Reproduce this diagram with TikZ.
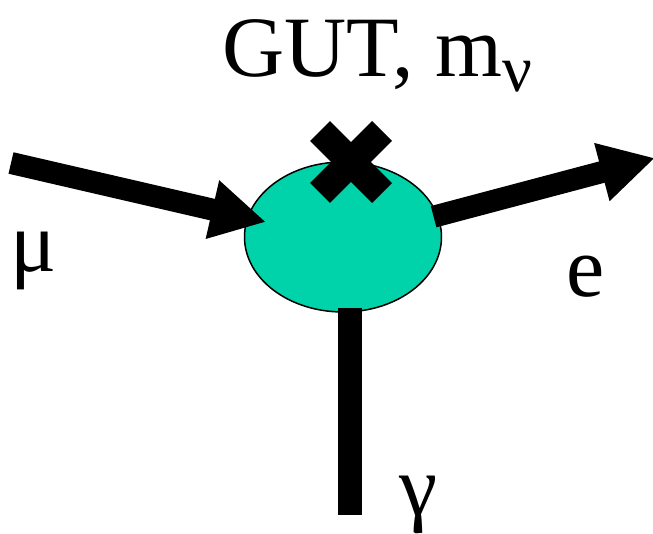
\documentclass[tikz,border=0pt]{standalone}
\usepackage{fontspec}
\setmainfont{Liberation Serif}
\usetikzlibrary{arrows.meta, shapes.geometric, positioning}
\definecolor{blobteal}{RGB}{0,210,170}

\begin{document}
\begin{tikzpicture}[x=1pt, y=-1pt,
  fermion/.style={line width=22pt, line cap=butt, -{Triangle[length={55pt 0 0}, width={56pt 0 0}]}},
  photon/.style={line width=24pt, line cap=butt},
  xbar/.style={line width=28pt, line cap=butt},
  particle/.style={font=\fontsize{86}{96}\selectfont, inner sep=0pt, anchor=base west}]
\useasboundingbox (0,0) rectangle (653,534);
% effective vertex
\node[ellipse, draw=black, line width=1.5pt, fill=blobteal, minimum width=197pt, minimum height=150pt] (blob) at (343,237) {};
% incoming muon
\coordinate (muin) at (11,163);
\coordinate (mutip) at (266,222);
\draw[fermion] (muin) -- (mutip);
% outgoing electron
\coordinate (eout) at (655,158);
\draw[fermion] ([xshift=-5pt]blob.12) -- (eout);
% photon leg
\coordinate (gammaend) at (350,515);
\draw[photon] ([xshift=7pt, yshift=5pt]blob.south) -- (gammaend);
% insertion mark
\coordinate (xmark) at (351,162);
\draw[xbar] ([shift={(-31,-31)}]xmark) -- ([shift={(31,31)}]xmark);
\draw[xbar] ([shift={(-31,31)}]xmark) -- ([shift={(31,-31)}]xmark);
% labels
\node[particle] (gutlabel) at (222,77) {GUT, m\raisebox{-15pt}{\fontsize{66}{70}\selectfont ν}};
\node[particle] (mulabel) at (10,272) {μ};
\node[particle] (elabel) at (566,297) {e};
\node[particle] (gammalabel) at (399,515) {γ};
\end{tikzpicture}
\end{document}
